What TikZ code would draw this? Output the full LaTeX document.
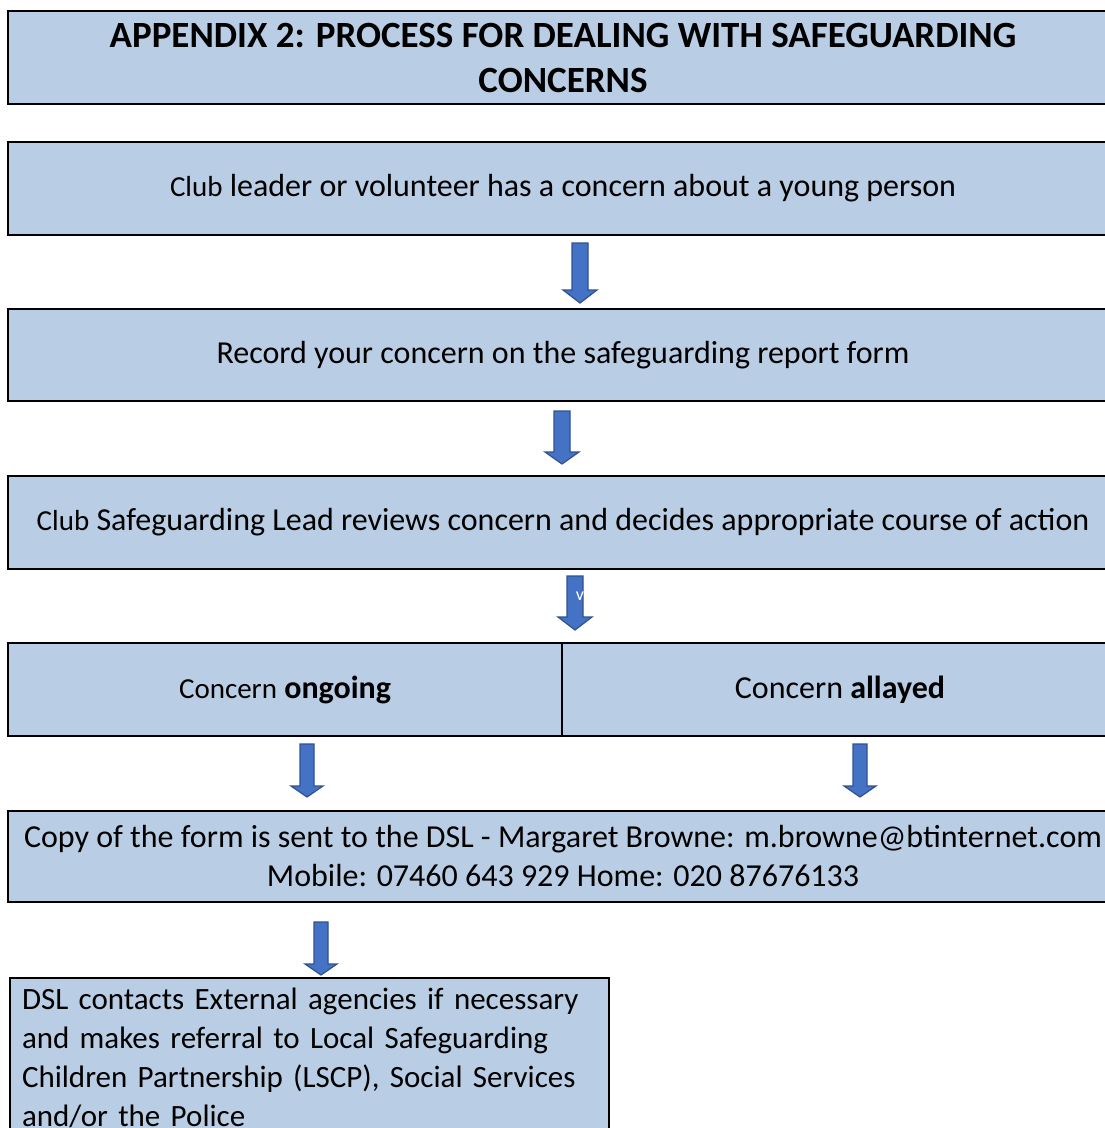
\documentclass[tikz,border=0pt]{standalone}
\usepackage{fontspec}
\setmainfont{Carlito}
\definecolor{boxfill}{HTML}{B9CDE4}
\definecolor{arrfill}{HTML}{4472C4}
\definecolor{arredge}{HTML}{2F528F}
% name, x, ytop, ybottom, shaft half width, head half width, head length
\newcommand\blockarrow[7]{%
  \coordinate (#1) at (#2,#3);
  \draw[barrow] (#2-#5,#3) -- (#2+#5,#3) -- (#2+#5,#4-#7) -- (#2+#6,#4-#7)
    -- (#2,#4) -- (#2-#6,#4-#7) -- (#2-#5,#4-#7) -- cycle;}
\begin{document}
\begin{tikzpicture}[x=1pt,y=-1pt,
  box/.style={draw=black, line width=2.5pt, fill=boxfill, anchor=north west,
    inner sep=0pt, outer sep=0pt, align=center, minimum width=1110pt,
    font=\fontsize{32}{39}\selectfont},
  barrow/.style={fill=arrfill, draw=arredge, line width=1.2pt, line join=miter}]
\useasboundingbox (0,0) rectangle (1105,1128);
\clip (0,0) rectangle (1105,1128);
\fill[white] (0,0) rectangle (1105,1128);

\node[box, minimum height=93pt, font=\fontsize{37}{45}\selectfont\bfseries] (title) at (8,11)
  {APPENDIX 2: PROCESS FOR DEALING WITH SAFEGUARDING\\CONCERNS};
\node[box, minimum height=93pt] (concern) at (8,142)
  {{\fontsize{29}{39}\selectfont Club} leader or volunteer has a concern about a young person};
\node[box, minimum height=92pt] (record) at (8,309)
  {Record your concern on the safeguarding report form};
\node[box, minimum height=93pt] (review) at (8,476)
  {{\fontsize{29}{39}\selectfont Club} Safeguarding Lead reviews concern and decides appropriate course of action};
\node[box, minimum height=93pt, minimum width=554pt, line width=2pt] (ongoing) at (8,643)
  {{\fontsize{29}{39}\selectfont Concern} \textbf{ongoing}};
\node[box, minimum height=93pt, minimum width=556pt, line width=2pt] (allayed) at (562,643)
  {Concern \textbf{allayed}};
\node[box, minimum height=91pt] (copy) at (8,811)
  {Copy of the form is sent to the DSL - Margaret Browne: m.browne@btinternet.com\\
   Mobile: 07460 643 929 Home: 020 87676133};
\node[box, minimum width=599pt, align=left, text width=575pt, inner xsep=12pt,
  inner ysep=10pt, font=\fontsize{31}{39}\selectfont] (dsl) at (10,978)
  {DSL contacts External agencies if necessary\\
   and makes referral to Local Safeguarding\\
   Children Partnership (LSCP), Social Services\\
   and/or the Police};

\blockarrow{a1}{580}{243}{303}{8}{17}{13}
\blockarrow{a2}{562}{411}{464}{8}{17}{12}
\blockarrow{a3}{575}{576}{630}{8}{17}{13}
\node[text=white, font=\fontsize{18}{18}\selectfont, inner sep=0pt] (vmark) at (580,596) {v};
\blockarrow{a4}{307}{744}{797}{7}{16}{11}
\blockarrow{a5}{860}{744}{797}{7}{16}{11}
\blockarrow{a6}{321}{922}{975}{7}{16}{11}
\end{tikzpicture}
\end{document}
